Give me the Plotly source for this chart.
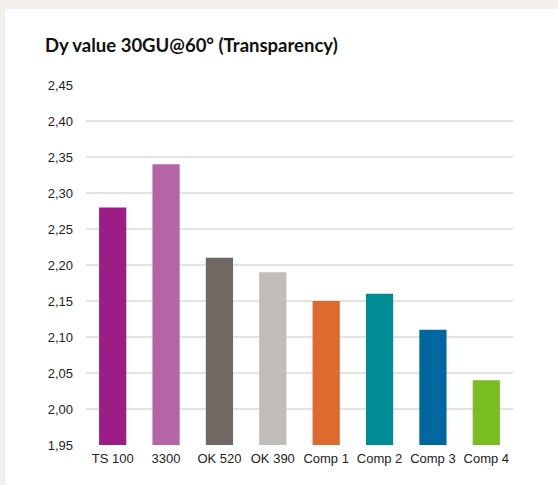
import plotly.graph_objects as go

categories = ["TS 100", "3300", "OK 520", "OK 390", "Comp 1", "Comp 2", "Comp 3", "Comp 4"]
values = [2.28, 2.34, 2.21, 2.19, 2.15, 2.16, 2.11, 2.04]
colors = ["#9b1d85", "#b565a7", "#706862", "#c0bcb7", "#dd6b30", "#008c95", "#0067a0", "#78be20"]
tick_vals = [1.95, 2.00, 2.05, 2.10, 2.15, 2.20, 2.25, 2.30, 2.35, 2.40, 2.45]
title_text = "Dy value 30GU@60° (Transparency)"

W, H = 558, 485
L, R, T, B = 86, 45, 85, 40
pw, ph = W - L - R, H - T - B

fig = go.Figure(go.Bar(
    x=categories, y=values, marker_color=colors, marker_line_width=0,
    hoverinfo="skip",
))

fig.update_layout(
    width=W, height=H,
    margin=dict(l=L, r=R, t=T, b=B),
    paper_bgcolor="#f3f0eb",
    plot_bgcolor="rgba(0,0,0,0)",
    separators=",.",
    showlegend=False,
    bargap=0.49,
    title=dict(
        text="<b>" + title_text + "</b>",
        font=dict(family="Lato", size=18.5, color="#111111"),
        x=45 / W, xref="container", xanchor="left",
        y=1 - 46 / H, yref="container", yanchor="middle",
    ),
    xaxis=dict(
        showgrid=False, showline=False, zeroline=False,
        tickfont=dict(family="Liberation Sans", size=13, color="#222222"),
        ticks="", ticklabelstandoff=4,
    ),
    yaxis=dict(
        range=[1.95, 2.45], tickvals=tick_vals, tickformat=".2f",
        showgrid=True, gridcolor="#e3e3e3", gridwidth=2,
        zeroline=False, showline=False,
        tickfont=dict(family="Liberation Sans", size=13, color="#222222"),
        ticks="", ticklabelstandoff=12,
    ),
    shapes=[dict(
        type="rect", layer="below", xref="paper", yref="paper",
        x0=(5 - L) / pw, x1=(W + 5 - L) / pw,
        y0=(H - B - (H + 5)) / ph, y1=(H - B - 9) / ph,
        fillcolor="white", line_width=0,
    )],
)

fig.write_html(
    "out.html",
    config={"displayModeBar": False},
    post_script="document.body.style.margin='0';document.body.style.padding='0';",
)
